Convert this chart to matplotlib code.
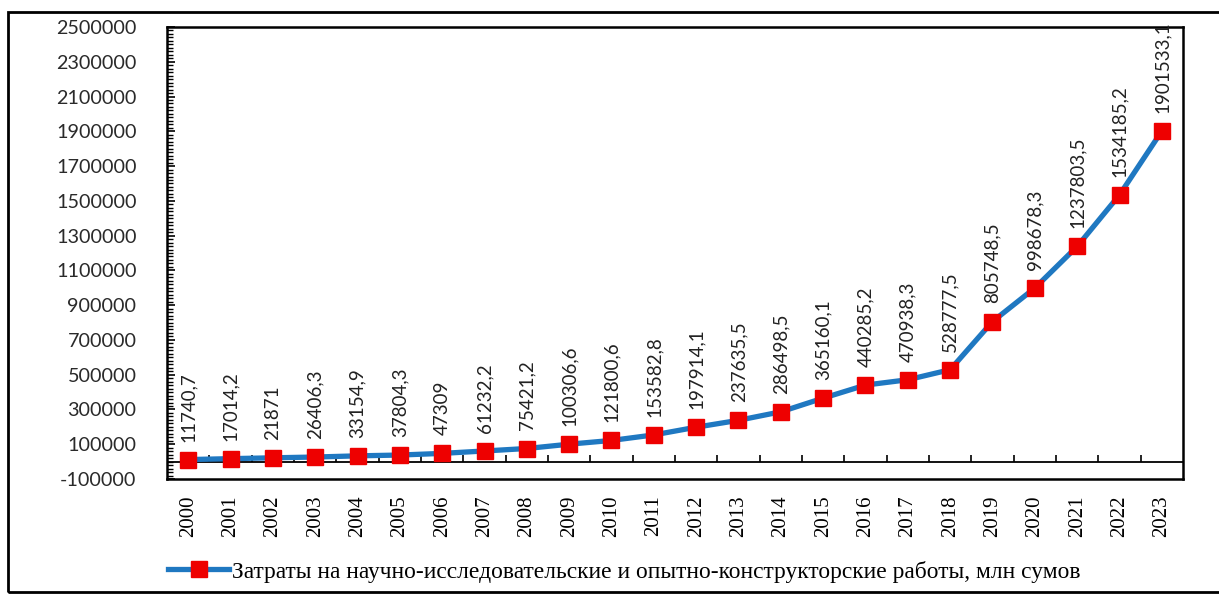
import matplotlib
matplotlib.use("Agg")
import matplotlib.pyplot as plt
from matplotlib.patches import Rectangle
from matplotlib.ticker import MultipleLocator, FuncFormatter

years = [str(y) for y in range(2000, 2024)]
values = [11740.7, 17014.2, 21871, 26406.3, 33154.9, 37804.3, 47309, 61232.2,
          75421.2, 100306.6, 121800.6, 153582.8, 197914.1, 237635.5, 286498.5,
          365160.1, 440285.2, 470938.3, 528777.5, 805748.5, 998678.3,
          1237803.5, 1534185.2, 1901533.1]
value_labels = ["11740,7", "17014,2", "21871", "26406,3", "33154,9", "37804,3",
                "47309", "61232,2", "75421,2", "100306,6", "121800,6",
                "153582,8", "197914,1", "237635,5", "286498,5", "365160,1",
                "440285,2", "470938,3", "528777,5", "805748,5", "998678,3",
                "1237803,5", "1534185,2", "1901533,1"]
legend_label = ("Затраты на научно-исследовательские и опытно-конструкторские "
                "работы, млн сумов")

LINE = "#1f78c1"
RED = "#ee0000"
SANS = ["Lato", "DejaVu Sans"]
SERIF = ["Liberation Serif", "DejaVu Serif"]
plt.rcParams["axes.unicode_minus"] = False

fig = plt.figure(figsize=(12.19, 5.94), dpi=100)
ax = fig.add_axes([167 / 1219, 1 - 479 / 594, (1183 - 167) / 1219, (479 - 27) / 594])

x = list(range(len(years)))
ax.plot(x, values, color=LINE, lw=3.8, marker="s", ms=12,
        mfc=RED, mec=RED, label=legend_label, zorder=3)

for xi, v, lab in zip(x, values, value_labels):
    ax.annotate(lab, (xi, v), xytext=(0, 13), textcoords="offset points",
                rotation=90, ha="center", va="bottom", fontsize=13.5,
                family=SANS, color="#222222")

# zero line with category boundary ticks
ax.axhline(0, color="black", lw=1.3, zorder=2)
ax.plot([i + 0.5 for i in x[:-1]], [0] * (len(x) - 1), ls="none",
        marker=2, ms=5, mew=1.2, color="black", zorder=2)

ax.set_xlim(-0.5, len(years) - 0.5)
ax.set_ylim(-100000, 2500000)
ax.set_xticks(x)
ax.set_xticklabels(years, rotation=90, family=SERIF, fontsize=15)
ax.tick_params(axis="x", length=0, pad=12)
ax.set_yticks(range(-100000, 2500001, 200000))
ax.yaxis.set_major_formatter(FuncFormatter(lambda v, p: f"{int(v)}"))
ax.yaxis.set_minor_locator(MultipleLocator(20000))
ax.tick_params(axis="y", which="major", direction="in", length=6, width=1.2,
               labelsize=14.2, pad=22)
ax.tick_params(axis="y", which="minor", direction="in", length=4, width=1)
for t in ax.get_yticklabels():
    t.set_family(SANS)
    t.set_color("#2a2a2a")
for s in ax.spines.values():
    s.set_linewidth(1.8)

ax.legend(loc="center", bbox_to_anchor=(0.45, -0.205), frameon=False,
          prop={"family": SERIF, "size": 16.9}, handlelength=2.6,
          handletextpad=0.1)

fig.patches.append(Rectangle((8 / 1219, 2 / 594), 1.2, 1 - 14 / 594,
                             transform=fig.transFigure, fill=False,
                             lw=2, ec="black"))

fig.savefig("out.png", dpi=100)
